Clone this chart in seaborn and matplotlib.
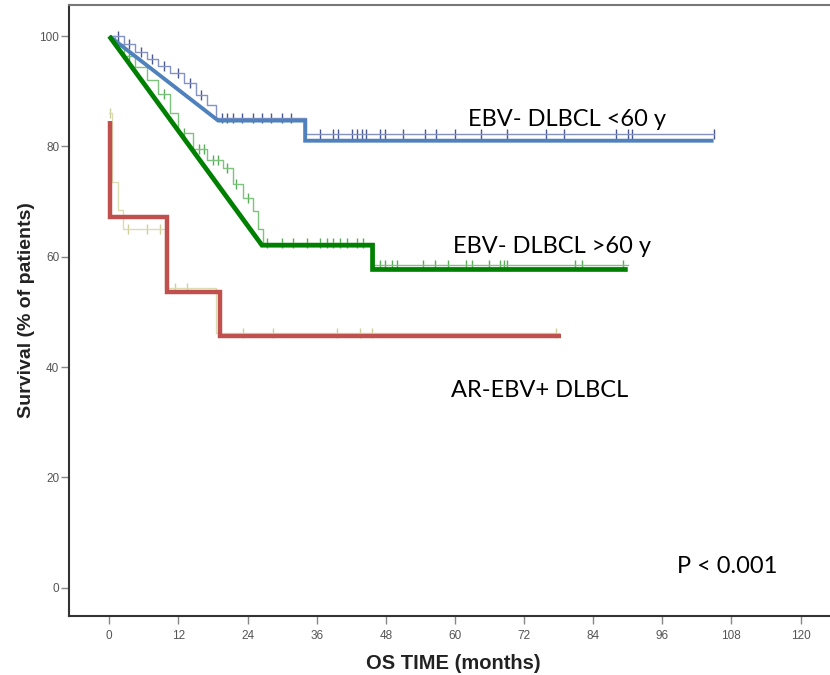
import numpy as np
import pandas as pd
import matplotlib
matplotlib.use("Agg")
import matplotlib.pyplot as plt
import seaborn as sns

# ---------------- data ----------------
# thick summary lines (vertices)
blue_t = [0.0, 18.9, 34.0, 34.0, 104.9]
blue_s = [100.0, 84.7, 84.7, 81.05, 81.05]
green_t = [0.0, 26.5, 45.7, 45.7, 90.0]
green_s = [100.0, 62.1, 62.1, 57.7, 57.7]
red_t = [0.1, 0.1, 10.1, 10.1, 19.3, 19.3, 78.4]
red_s = [84.7, 67.3, 67.3, 53.7, 53.7, 45.6, 45.6]

# thin Kaplan-Meier step curves (event times / survival after event)
km_blue_t = [0, 2.5, 4.5, 6.5, 8.5, 10.5, 13, 15, 17, 18.5, 34.2, 105]
km_blue_s = [100, 98.6, 97.2, 95.8, 94.6, 93.4, 91.5, 89.3, 87.5, 85.2, 82.2, 82.2]
km_green_t = [0, 1.0, 2.5, 4.5, 6.5, 8.5, 10.5, 12, 14.5, 17, 19.8, 21.5, 23.2,
              25, 25.8, 26.7, 45.7, 90]
km_green_s = [100, 98.5, 96.5, 94.5, 92, 89.5, 86, 82.5, 79.5, 77.5, 76.1, 73.2,
              70.6, 68.3, 65.0, 62.5, 58.5, 58.5]
km_tan_t = [0, 0.4, 1.5, 2.3, 9.6, 18.6, 78]
km_tan_s = [86, 73.5, 68.5, 65.0, 54.4, 46.2, 46.2]

# censored observations (months)
cens_blue = [1.5, 3.5, 5.5, 7.5, 9.5, 12, 14, 16, 19.5, 20.5, 21.5, 23, 25, 26.5,
             28, 30, 31.5, 36.6, 38.8, 39.7, 42.1, 43.0, 43.9, 44.5, 47.0, 47.8,
             51.0, 54.8, 56.8, 60.0, 64.6, 69.0, 75.9, 79.0, 88.0, 90.0, 90.8, 105.0]
cens_green = [1.5, 3.5, 9.5, 13, 15.5, 16.5, 18, 18.8, 20.5, 22, 24, 27.4, 30.0,
              31.9, 34.3, 36.6, 37.8, 38.8, 40.0, 41.2, 43.0, 44.0, 47.0, 47.8,
              49.0, 49.9, 54.4, 56.5, 58.8, 62.0, 62.9, 66.0, 67.8, 68.5, 69.0,
              80.8, 82.0, 89.1]
cens_tan = [0.2, 3.3, 6.6, 8.8, 11.4, 13.5, 23.2, 28.4, 39.5, 43.5, 45.6, 77.6]

group_labels = ["EBV- DLBCL <60 y", "EBV- DLBCL >60 y", "AR-EBV+ DLBCL"]
p_text = "P < 0.001"
x_ticks = [0, 12, 24, 36, 48, 60, 72, 84, 96, 108, 120]
y_ticks = [0, 20, 40, 60, 80, 100]


def surv_at(tt, times, surv):
    idx = np.searchsorted(np.asarray(times), tt, side="right") - 1
    return np.asarray(surv)[np.clip(idx, 0, len(surv) - 1)]


sns.set_theme(style="white")
plt.rcParams["font.family"] = ["Liberation Sans", "DejaVu Sans"]

fig = plt.figure(figsize=(8.30, 6.75), dpi=100)
ax = fig.add_axes([0.0831, 0.0879, 0.9265, 0.9047])

# thin KM curves
for t, s, c in [(km_tan_t, km_tan_s, "#dcdcb4"),
                (km_green_t, km_green_s, "#7cc47c"),
                (km_blue_t, km_blue_s, "#8493c4")]:
    df = pd.DataFrame({"t": t, "s": s})
    sns.lineplot(data=df, x="t", y="s", ax=ax, color=c, lw=1.0,
                 drawstyle="steps-post", estimator=None, sort=False)

# censor marks
for cens, t, s, c in [(cens_tan, km_tan_t, km_tan_s, "#cfcf9c"),
                      (cens_green, km_green_t, km_green_s, "#5aab5a"),
                      (cens_blue, km_blue_t, km_blue_s, "#4a5892")]:
    df = pd.DataFrame({"t": cens, "s": surv_at(np.asarray(cens), t, s)})
    sns.scatterplot(data=df, x="t", y="s", ax=ax, marker="|", s=55,
                    color=c, linewidth=1.0)

# thick overlay lines
for t, s, c, w in [(blue_t, blue_s, "#4f81bd", 2.8),
                   (green_t, green_s, "#008000", 3.4),
                   (red_t, red_s, "#c0504d", 3.2)]:
    df = pd.DataFrame({"t": t, "s": s})
    sns.lineplot(data=df, x="t", y="s", ax=ax, color=c, lw=w,
                 estimator=None, sort=False,
                 solid_joinstyle="miter", solid_capstyle="butt")

ax.set_xlim(-7.0, 126.5)
ax.set_ylim(-5.08, 105.66)
ax.set_xticks(x_ticks)
ax.set_yticks(y_ticks)
ax.set_xticklabels([str(v) for v in x_ticks])
ax.set_yticklabels([str(v) for v in y_ticks])

for sp in ["top", "left", "bottom"]:
    ax.spines[sp].set_visible(True)
    ax.spines[sp].set_color("#333333")
    ax.spines[sp].set_linewidth(1.5)
ax.spines["right"].set_visible(False)
ax.spines["top"].set_color("#777777")

ax.tick_params(axis="both", which="major", direction="out", length=6,
               width=1.0, color="#888888", labelcolor="#555555",
               labelsize=8.5, bottom=True, left=True)
ax.tick_params(axis="y", pad=1)
ax.tick_params(axis="x", pad=4)

ax.set_xlabel("OS TIME (months)", fontsize=14.5, fontweight="bold",
              color="#222222", labelpad=9)
ax.set_ylabel("Survival (% of patients)", fontsize=14, fontweight="bold",
              color="#222222", labelpad=3)

txt_font = ["Lato", "DejaVu Sans"]
ax.text(62.3, 83.7, group_labels[0], fontsize=17, family=txt_font,
        ha="left", va="baseline", color="black")
ax.text(59.6, 60.6, group_labels[1], fontsize=17, family=txt_font,
        ha="left", va="baseline", color="black")
ax.text(59.4, 34.5, group_labels[2], fontsize=17, family=txt_font,
        ha="left", va="baseline", color="black")
ax.text(98.5, 2.65, p_text, fontsize=17, family=txt_font,
        ha="left", va="baseline", color="black")

fig.savefig("out.png", dpi=100)
